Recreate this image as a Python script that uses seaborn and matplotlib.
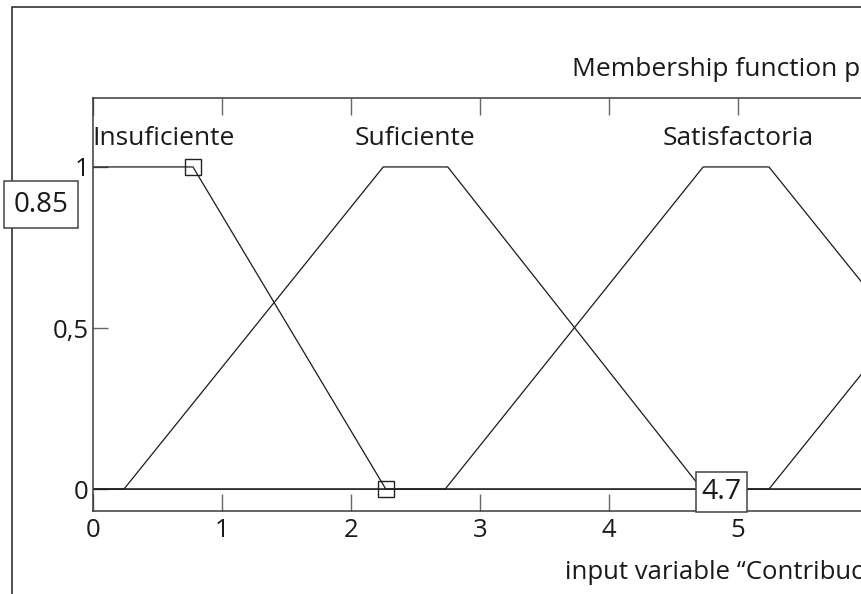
import matplotlib
matplotlib.use("Agg")
import matplotlib.pyplot as plt
import matplotlib.patches as mpatches
import pandas as pd
import seaborn as sns


# membership functions of the input variable (breakpoints)
MF_NAMES = ["Insuficiente", "Suficiente", "Satisfactoria", "Excelente"]
MF_X = [
    [0.0, 0.775, 2.27, 10.0],
    [0.0, 0.24, 2.25, 2.75, 4.72, 10.0],
    [0.0, 2.73, 4.73, 5.24, 7.25, 10.0],
    [0.0, 5.24, 7.25, 7.75, 9.75, 10.0],
]
MF_Y = [
    [1, 1, 0, 0],
    [0, 0, 1, 1, 0, 0],
    [0, 0, 1, 1, 0, 0],
    [0, 0, 1, 1, 0, 0],
]
LABEL_X = [0.55, 2.5, 5.0, 7.5]
SELECTED_X = [0.775, 2.27]
SELECTED_Y = [1, 0]

X_TICKS = [0, 1, 2, 3, 4, 5, 6, 7, 8, 9, 10]
Y_TICKS = [0, 0.5, 1]
Y_TICK_LABELS = ["0", "0,5", "1"]

TITLE = "Membership function plots"
X_LABEL = "input variable \u201cContribuci\u00f3n\u201d"
Y_VALUE = "0.85"
X_VALUE = "4.7"

W, H = 861, 594

sns.set_style("white")
plt.rcParams["font.family"] = ["Open Sans", "DejaVu Sans"]

fig = plt.figure(figsize=(W / 100, H / 100), dpi=100)
# the plot is cropped on the right, so the axes run past the figure edge
ax = fig.add_axes([93 / W, (H - 511) / H, 1290 / W, 413 / H])

rows = []
for name, xs, ys in zip(MF_NAMES, MF_X, MF_Y):
    for x, y in zip(xs, ys):
        rows.append({"mf": name, "x": x, "mu": y})
df = pd.DataFrame(rows)

for name in MF_NAMES:
    sns.lineplot(data=df[df["mf"] == name], x="x", y="mu", sort=False,
                 estimator=None, color="#1a1a1a", linewidth=0.9, ax=ax)

ax.plot(SELECTED_X, SELECTED_Y, linestyle="none", marker="s", markersize=12,
        markerfacecolor="none", markeredgecolor="#222222", markeredgewidth=1.0)

for name, lx in zip(MF_NAMES, LABEL_X):
    ax.text(lx, 1.068, name, ha="center", va="baseline", fontsize=19, color="#1a1a1a")

ax.set_xlim(0, 10)
ax.set_ylim(-0.068, 1.214)
ax.set_xticks(X_TICKS)
ax.set_yticks(Y_TICKS)
ax.set_yticklabels(Y_TICK_LABELS)
ax.tick_params(axis="x", direction="in", top=True, bottom=True, length=12,
               width=1.0, color="#666666", labelsize=18.5, pad=5, labelcolor="#1a1a1a")
ax.tick_params(axis="y", direction="in", left=True, right=True, length=11,
               width=1.0, color="#666666", labelsize=18.5, pad=3, labelcolor="#1a1a1a")
for sp in ax.spines.values():
    sp.set_color("#3a3a3a")
    sp.set_linewidth(1.1)

ax.set_title(TITLE, fontsize=19, pad=16, color="#1a1a1a")
ax.set_xlabel(X_LABEL, fontsize=18.5, labelpad=12, color="#1a1a1a")
ax.set_ylabel("")

# outer panel frame
frame = mpatches.Rectangle((12 / W, -0.5), 2.0, 1.5 - 7 / H, transform=fig.transFigure,
                           fill=False, edgecolor="#222222", linewidth=1.1)
fig.add_artist(frame)

# value boxes
fig.text(41 / W, 1 - 204.5 / H, Y_VALUE, ha="center", va="center", fontsize=20, color="#1a1a1a",
         bbox=dict(boxstyle="square,pad=0.33", facecolor="white", edgecolor="#444444", linewidth=1.1))
fig.text(721.5 / W, 1 - 492 / H, X_VALUE, ha="center", va="center", fontsize=20.5, color="#1a1a1a",
         bbox=dict(boxstyle="square,pad=0.2", facecolor="white", edgecolor="#444444", linewidth=1.1))

fig.savefig("out.png", dpi=100)
